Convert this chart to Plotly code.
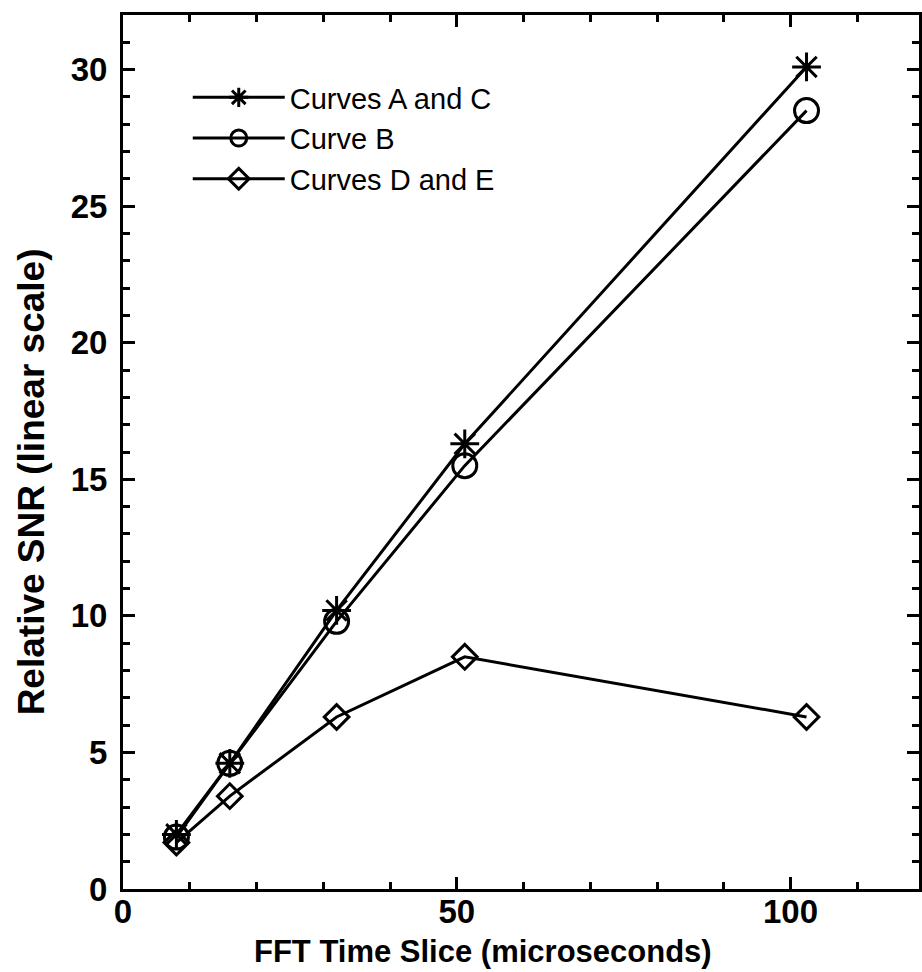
import plotly.graph_objects as go

# ---- data ----
time_slice = [8, 16, 32, 51.2, 102.4]
snr_ac = [2.0, 4.6, 10.2, 16.3, 30.1]
snr_b = [1.9, 4.6, 9.8, 15.5, 28.5]
snr_de = [1.7, 3.4, 6.3, 8.5, 6.3]
names = ["Curves A and C", "Curve B", "Curves D and E"]

W, H = 922, 972
L, R, T, B = 123, 0, 15, 83
pw, ph = W - L - R, H - T - B

def px_x(p):
    return (p - L) / pw

def px_y(p):
    return (H - B - p) / ph

fig = go.Figure()
fig.add_trace(go.Scatter(
    x=time_slice, y=snr_b, mode="lines+markers", name=names[1], legendrank=2,
    line=dict(color="black", width=3),
    marker=dict(symbol="circle-open", size=24, color="black", line=dict(width=3, color="black"))))
fig.add_trace(go.Scatter(
    x=time_slice, y=snr_ac, mode="lines+markers", name=names[0], legendrank=1,
    line=dict(color="black", width=3),
    marker=dict(symbol="asterisk-open", size=24, color="black", line=dict(width=3, color="black"))))
fig.add_trace(go.Scatter(
    x=time_slice, y=snr_de, mode="lines+markers", name=names[2], legendrank=3,
    line=dict(color="black", width=3),
    marker=dict(symbol="diamond-open", size=19, color="black", line=dict(width=3, color="black"))))

tickfont = dict(family="Liberation Sans, Arial, sans-serif", size=33, color="black", weight="bold")
common = dict(
    showgrid=False, zeroline=False, showline=True, linewidth=3, linecolor="black",
    mirror="allticks", ticks="inside", ticklen=12, tickwidth=3, tickcolor="black",
    tickfont=tickfont,
)
fig.update_xaxes(range=[0, 119.25], tick0=0, dtick=50,
                 minor=dict(dtick=10, ticks="inside", ticklen=7, tickwidth=3, tickcolor="black"),
                 ticklabelstandoff=-9, **common)
fig.update_yaxes(range=[0, 32], tick0=0, dtick=5,
                 minor=dict(dtick=1, ticks="inside", ticklen=7, tickwidth=3, tickcolor="black"),
                 ticklabelstandoff=6, **common)

titlefont = dict(family="Liberation Sans, Arial, sans-serif", color="black", weight="bold")
fig.add_annotation(text="FFT Time Slice (microseconds)", xref="paper", yref="paper",
                   x=px_x(484), y=px_y(951), xanchor="center", yanchor="middle",
                   showarrow=False, font=dict(size=31, **titlefont))
fig.add_annotation(text="Relative SNR (linear scale)", xref="paper", yref="paper",
                   x=px_x(31), y=px_y(482), xanchor="center", yanchor="middle",
                   textangle=-90, showarrow=False, font=dict(size=37, **titlefont))

fig.update_layout(
    width=W, height=H, margin=dict(l=L, r=R, t=T, b=B, pad=0),
    paper_bgcolor="white", plot_bgcolor="white",
    legend=dict(x=px_x(188), y=px_y(72), xanchor="left", yanchor="top",
                traceorder="normal", itemwidth=92, bgcolor="rgba(0,0,0,0)",
                font=dict(family="Liberation Sans, Arial, sans-serif", size=29, color="black")),
)

fig.write_html("out.html")
